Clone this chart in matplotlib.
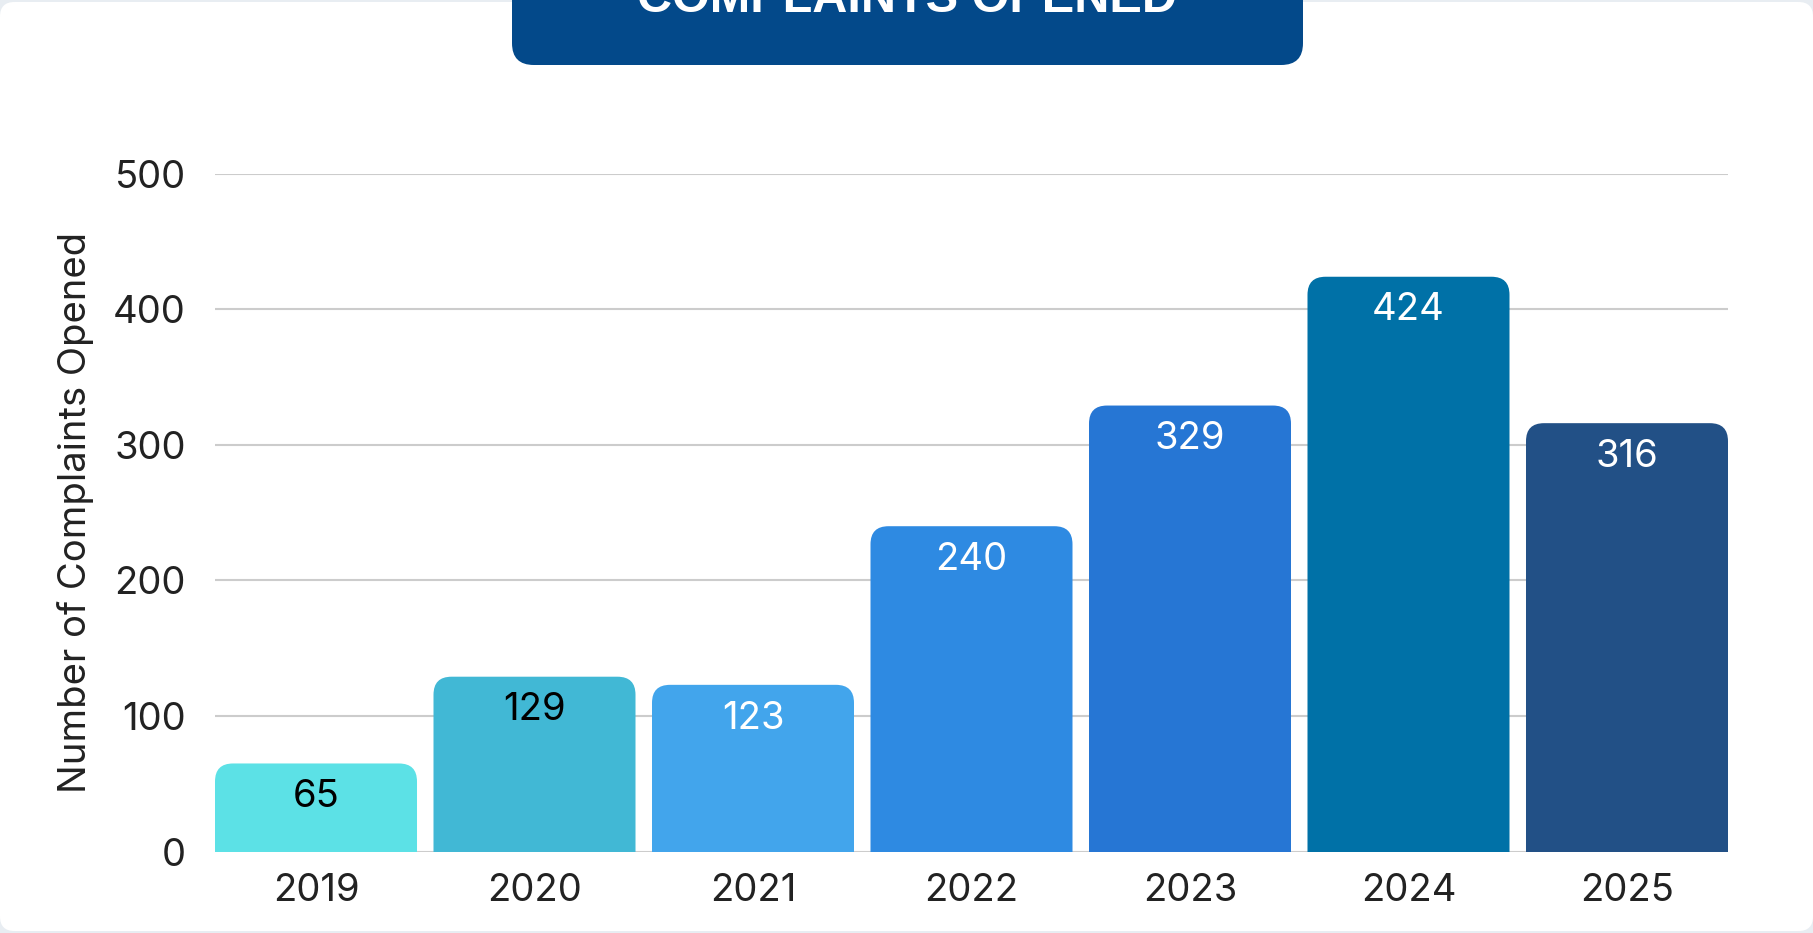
import matplotlib
matplotlib.use('Agg')
import matplotlib.pyplot as plt
from matplotlib.patches import FancyBboxPatch

# data
years = ['2019', '2020', '2021', '2022', '2023', '2024', '2025']
opened = [65, 129, 123, 240, 329, 424, 316]
bar_colors = ['#5ce1e6', '#41b8d5', '#42a5ec', '#2e8ae2', '#2676d4', '#0071a7', '#225086']
label_colors = ['black', 'black', 'white', 'white', 'white', 'white', 'white']
yticks = [0, 100, 200, 300, 400, 500]

plt.rcParams['font.family'] = ['Inter', 'DejaVu Sans']
fs = 27.5

W, H = 1813, 933
fig = plt.figure(figsize=(W / 100, H / 100), dpi=100)
fig.patch.set_facecolor('#e8edf2')

# white card
card = FancyBboxPatch((0, 2 / H), 1, 1 - 4 / H, boxstyle='round,pad=0,rounding_size=0.008',
                      mutation_aspect=W / H, transform=fig.transFigure,
                      facecolor='white', edgecolor='none', zorder=-3)
fig.patches.append(card)

# title banner (top cut off)
banner = FancyBboxPatch((512 / W, 1 - 65 / H), (1303 - 512) / W, 100 / H,
                        boxstyle='round,pad=0,rounding_size=0.012',
                        mutation_aspect=W / H, transform=fig.transFigure,
                        facecolor='#03498a', edgecolor='none', zorder=-2)
fig.patches.append(banner)
fig.text(907 / W, 1 - 12 / H, 'COMPLAINTS OPENED', ha='center', va='baseline',
         color='white', fontsize=35, fontweight='bold', family='Liberation Sans')

left, right = 215, 1728
top, bottom = 173.7, 851.6
ax = fig.add_axes([left / W, 1 - bottom / H, (right - left) / W, (bottom - top) / H])
ax.set_facecolor('none')
ax.set_zorder(1)

bw = 0.9245
x = range(len(years))
ax.set_xlim(-bw / 2, len(years) - 1 + bw / 2)
ax.set_ylim(0, 500)

# px per data unit, for round corners
px_x = (right - left) / (len(years) - 1 + bw)
px_y = (bottom - top) / 500
r_px = 18
r_x = r_px / px_x
aspect = px_x / px_y

bars = ax.bar(x, opened, width=bw, color=bar_colors)
for b, c in zip(bars, bar_colors):
    bx, by = b.get_x(), b.get_y()
    bwid, bh = b.get_width(), b.get_height()
    pad = r_x * aspect
    p = FancyBboxPatch((bx, by - pad), bwid, bh + pad,
                       boxstyle='round,pad=0,rounding_size=%f' % r_x,
                       mutation_aspect=aspect, facecolor=c, edgecolor='none', zorder=3)
    ax.add_patch(p)
    b.remove()

for i, v in enumerate(opened):
    ax.annotate(str(v), (i, v), xytext=(0, -31.5), textcoords='offset points',
                ha='center', va='baseline', fontsize=fs, color=label_colors[i], zorder=4)

ax.set_xticks(list(x))
ax.set_xticklabels(years)
ax.set_yticks(yticks)
ax.grid(axis='y', color='#cccccc', lw=1.5, zorder=0)
ax.set_axisbelow(True)
for s in ax.spines.values():
    s.set_visible(False)
ax.tick_params(axis='both', length=0, labelsize=fs, labelcolor='#222222')
ax.tick_params(axis='y', pad=21)
ax.tick_params(axis='x', pad=15.5)
ax.set_ylabel('Number of Complaints Opened', fontsize=fs, color='#222222')
ax.yaxis.set_label_coords((94 - left) / (right - left), 0.5)

fig.savefig('out.png', dpi=100, facecolor=fig.get_facecolor())
